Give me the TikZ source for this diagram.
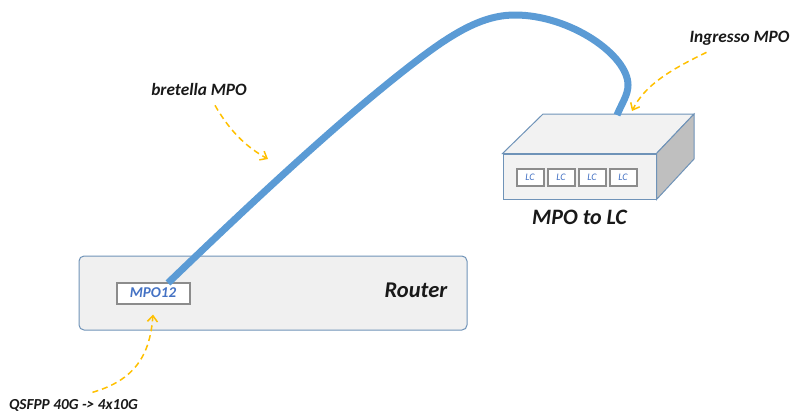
\documentclass[tikz,border=0pt]{standalone}
\usepackage{fontspec}
\setmainfont{Carlito}
\usepackage{xcolor}
\usepackage{tikz}
\usetikzlibrary{arrows.meta, shapes}
\definecolor{cablecol}{HTML}{5B9BD5}
\definecolor{edgecol}{HTML}{6F93B8}
\definecolor{portcol}{HTML}{8C8C8C}
\definecolor{lblcol}{HTML}{4472C4}
\definecolor{notecol}{HTML}{FFC000}
\tikzset{
  label text/.style={font=\bfseries\itshape, inner sep=0pt, text=black!90},
  port/.style={draw=portcol, line width=2pt, fill=white, text=lblcol, inner sep=0pt, font=\itshape},
  note arrow/.style={draw=notecol, line width=1.5pt, dash pattern=on 6pt off 4pt, -{Straight Barb[length=6pt,width=10pt]}}
}

\begin{document}
\begin{tikzpicture}[x=1pt,y=-1pt]
\useasboundingbox (0,0) rectangle (791,413);

\begin{scope}[every node/.style={draw=edgecol, line width=1pt, fill=black!6}]
    \node[rounded corners=5pt, minimum width=388pt, minimum height=74pt] (R) at (273,293) {};
    \node[minimum width=153pt, minimum height=45pt, fill=black!5] (F) at (579.5,176.5) {};
\end{scope}

\coordinate (BL) at (543,114);
\coordinate (BR) at (694,114);
\coordinate (SB) at (694,159);
\coordinate (IN) at (617,115);
\coordinate (OUT) at (168,283);
\coordinate (NB) at (268,159);
\coordinate (NI) at (632,111);

\begin{scope}[draw=edgecol, line width=1pt]
    \draw[fill=black!5] (F.north west) -- (BL) -- (BR) -- (F.north east) -- cycle;
    \draw[fill=black!25] (F.north east) -- (BR) -- (SB) -- (F.south east) -- cycle;
\end{scope}

\begin{scope}[every node/.style={port, minimum width=27pt, minimum height=17pt}]
    \node[font=\itshape\fontsize{10}{10}\selectfont] (L1) at (530,177) {LC};
    \node[font=\itshape\fontsize{10}{10}\selectfont] (L2) at (561,177) {LC};
    \node[font=\itshape\fontsize{10}{10}\selectfont] (L3) at (592,177) {LC};
    \node[font=\itshape\fontsize{10}{10}\selectfont] (L4) at (623,177) {LC};
    \node[minimum width=73pt, minimum height=21pt, font=\bfseries\itshape\fontsize{15}{15}\selectfont] (P) at (153,293) {MPO12};
\end{scope}

% cable
\draw[cablecol, line width=7pt, line join=round]
    (OUT) .. controls (250,204) and (350,110) .. (427,53)
    .. controls (465,25) and (490,15) .. (515,15)
    .. controls (570,15) and (628,55) .. (628,85)
    .. controls (628,95) and (622,103) .. (IN);

\begin{scope}[every node/.style={label text}]
    \node[font=\bfseries\itshape\fontsize{22.5}{22.5}\selectfont] (RT) at (416,290) {Router};
    \node[font=\bfseries\itshape\fontsize{22}{22}\selectfont] (ML) at (579.5,217) {MPO to LC};
    \node[font=\bfseries\itshape\fontsize{17.3}{17.3}\selectfont] (B) at (199,89) {bretella MPO};
    \node[font=\bfseries\itshape\fontsize{17.3}{17.3}\selectfont] (I) at (739.5,38) {Ingresso MPO};
    \node[font=\bfseries\itshape\fontsize{15.3}{15.3}\selectfont] (Q) at (73.5,405.5) {QSFPP 40G -> 4x10G};
\end{scope}

\begin{scope}[every path/.style={note arrow}]
    \path ([xshift=16pt,yshift=-10pt]B.south) .. controls (232,135) and (250,149) .. (NB);
    \path ([xshift=-33pt,yshift=-7pt]I.south) .. controls (670,70) and (645,85) .. (NI);
    \path ([xshift=19pt,yshift=7pt]Q.north) .. controls (135,380) and (150,355) .. ([yshift=-10pt]P.south);
\end{scope}
\end{tikzpicture}
\end{document}
